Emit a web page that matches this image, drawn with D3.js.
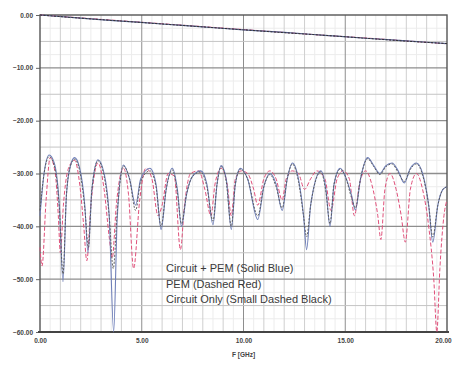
<!DOCTYPE html>
<html>
<head>
<meta charset="utf-8">
<script src="https://cdn.jsdelivr.net/npm/d3@7"></script>
<style>
  body { margin: 0; background: #fff; }
  svg { display: block; font-family: "Liberation Sans", Arial, sans-serif; }
</style>
</head>
<body>
<svg id="chart" width="453" height="365"></svg>
<script>
// tick labels
const xTicks = [0, 5, 10, 15, 20];
const yTicks = [0, -10, -20, -30, -40, -50, -60];

// insertion loss (top traces)
const ilFreq = [0, 2, 4, 6, 8, 10, 12, 14, 16, 18, 20];
const ilCircuitPem = [0, -0.6, -1.15, -1.7, -2.25, -2.8, -3.3, -3.85, -4.4, -4.9, -5.4];
const ilPem = [0, -0.55, -1.1, -1.65, -2.2, -2.75, -3.3, -3.85, -4.35, -4.9, -5.45];
const ilCircuit = [0, -0.6, -1.15, -1.7, -2.25, -2.8, -3.35, -3.85, -4.4, -4.95, -5.4];

// return loss, Circuit + PEM (solid blue)
const rlBlueFreq = [0, 0.2, 0.45, 0.7, 0.95, 1.13, 1.3, 1.5, 1.7, 1.95, 2.2, 2.36, 2.55, 2.85, 3.15, 3.4, 3.62, 3.8, 4.1, 4.4, 4.7, 4.95,
  5.4, 5.7, 5.95, 6.2, 6.5, 6.75, 6.95, 7.2, 7.5, 7.9, 8.2, 8.5, 8.7, 8.9, 9.15, 9.4, 9.6, 9.85, 10.2, 10.7, 11.0, 11.3, 11.6, 11.9,
  12.15, 12.4, 12.7, 12.95, 13.1, 13.3, 13.8, 14.05, 14.25, 14.45, 14.75, 15.0, 15.3, 15.5, 15.75, 16.1, 16.4, 16.7, 17.0, 17.3,
  17.6, 17.9, 18.2, 18.5, 18.8, 19.1, 19.3, 19.55, 19.8, 20];
const rlBlue = [-38, -30, -26.5, -28, -36, -50.5, -34, -28.5, -27, -29, -36, -45, -33, -27.4, -30, -38, -60, -38, -28.4, -31, -36, -31,
  -29, -32, -40.6, -33, -29, -33, -40, -34, -30.5, -29.5, -32, -39.7, -32, -28.5, -31, -40.6, -32, -29, -31, -38.7, -32.5, -30, -32, -37,
  -31, -28, -31, -38, -44.4, -36, -29.5, -33, -40, -32, -29, -30.5, -34, -36.9, -31, -27, -28.5, -30, -28.5, -28,
  -29.5, -31.8, -29, -28, -30, -36, -43, -36, -33, -32.5];

// return loss, Circuit only (small dashed black)
const rlBlackFreq = [0, 0.2, 0.45, 0.7, 0.95, 1.13, 1.3, 1.5, 1.7, 1.95, 2.2, 2.38, 2.55, 2.85, 3.15, 3.4, 3.6, 3.8, 4.1, 4.4, 4.7, 4.95,
  5.4, 5.7, 5.95, 6.2, 6.5, 6.75, 6.95, 7.2, 7.5, 7.9, 8.2, 8.5, 8.7, 8.9, 9.15, 9.4, 9.6, 9.85, 10.2, 10.7, 11.0, 11.3, 11.6, 11.9,
  12.15, 12.4, 12.7, 12.95, 13.1, 13.3, 13.8, 14.05, 14.25, 14.45, 14.75, 15.0, 15.3, 15.5, 15.75, 16.1, 16.4, 16.7, 17.0, 17.3,
  17.6, 17.9, 18.2, 18.5, 18.8, 19.1, 19.3, 19.55, 19.8, 20];
const rlBlack = [-37, -30, -26.8, -28.5, -36.5, -49, -34, -28.5, -27.3, -29.5, -36.5, -44, -33, -27.6, -30.5, -38, -48, -37, -28.6, -31, -37, -31.5,
  -29.5, -32.5, -40, -33, -29.3, -33.5, -39.5, -34, -30.5, -29.7, -32.5, -39, -32, -28.7, -31.5, -40, -32, -29.2, -31, -38, -32.5, -30.2, -32.5, -36.5,
  -31, -28.2, -31.5, -38, -42, -36, -29.7, -33.5, -39.5, -32, -29.2, -30.5, -34.5, -36.5, -31, -27.2, -28.7, -30.2, -28.7, -28.2,
  -29.8, -31.5, -29.2, -28.2, -30.3, -36, -42, -36, -33, -32.5];

// return loss, PEM (dashed red)
const rlRedFreq = [0, 0.1, 0.3, 0.5, 0.75, 0.9, 1.0, 1.15, 1.4, 1.7, 1.95, 2.15, 2.3, 2.5, 2.85, 3.15, 3.4, 3.55, 3.75, 4.1, 4.35, 4.6,
  4.9, 5.2, 5.5, 5.8, 6.0, 6.3, 6.6, 6.9, 7.1, 7.4, 7.8, 8.1, 8.4, 8.6, 8.9, 9.2, 9.4, 9.6, 9.9, 10.2, 10.5, 10.7, 11.0, 11.3, 11.6,
  11.9, 12.1, 12.4, 12.7, 13.0, 13.3, 13.6, 14.0, 14.3, 14.6, 14.9, 15.2, 15.45, 15.7, 16.0, 16.3, 16.6, 16.75, 16.95, 17.2, 17.5,
  17.75, 17.95, 18.2, 18.5, 18.8, 19.1, 19.35, 19.5, 19.65, 19.85, 20];
const rlRed = [-44, -47.5, -35, -27, -30, -38, -45, -36, -29, -27.5, -32, -40, -46.5, -36, -28, -33, -42, -46, -36, -29, -34, -48,
  -35, -29, -31, -38, -36, -30, -30.5, -44.4, -36, -30, -29.5, -33, -38, -32, -29, -32, -38, -31, -29.5, -30, -33, -36, -31, -29.5, -31,
  -35, -31, -29.5, -30, -33, -31, -29.5, -31, -37, -31, -29.5, -31, -38, -32, -29.5, -32, -38, -42.5, -33, -30, -33,
  -38, -43, -33, -30, -33, -40, -50, -60, -48, -38, -35];

const width = 453, height = 365;
const margin = { left: 40, right: 6, top: 15, bottom: 33 };

const svg = d3.select("#chart");

const x = d3.scaleLinear().domain([0, 20]).range([margin.left, width - margin.right]);
const y = d3.scaleLinear().domain([-60, 0]).range([height - margin.bottom, margin.top]);

// faint sub grid
const grid = svg.append("g").attr("class", "grid");
grid.selectAll("line.fx").data(d3.range(0.5, 20, 1)).enter().append("line")
    .attr("x1", d => x(d)).attr("x2", d => x(d))
    .attr("y1", y(0)).attr("y2", y(-60))
    .attr("stroke", "#ececec").attr("stroke-width", 1);
grid.selectAll("line.fy").data(d3.range(-57.5, 0, 5)).enter().append("line")
    .attr("y1", d => y(d)).attr("y2", d => y(d))
    .attr("x1", x(0)).attr("x2", x(20))
    .attr("stroke", "#ececec").attr("stroke-width", 1);

// minor grid, every GHz and every 5 dB
grid.selectAll("line.vx").data(d3.range(1, 20)).enter().append("line")
    .attr("x1", d => x(d)).attr("x2", d => x(d))
    .attr("y1", y(0)).attr("y2", y(-60))
    .attr("stroke", d => d % 5 === 0 ? "#8e8e8e" : "#cfcfcf")
    .attr("stroke-width", 1);
grid.selectAll("line.hy").data(d3.range(-55, 0, 5)).enter().append("line")
    .attr("y1", d => y(d)).attr("y2", d => y(d))
    .attr("x1", x(0)).attr("x2", x(20))
    .attr("stroke", d => d % 10 === 0 ? "#8e8e8e" : "#c4c4c4")
    .attr("stroke-width", d => d % 10 === 0 ? 1.3 : 1);

// axes
const xAxis = d3.axisBottom(x).tickValues(xTicks).tickFormat(d3.format(".2f")).tickSize(0).tickPadding(6);
const yAxis = d3.axisLeft(y).tickValues(yTicks).tickFormat(d3.format(".2f")).tickSize(4).tickPadding(2);

const gx = svg.append("g").attr("transform", `translate(0,${y(-60)})`).call(xAxis);
const gy = svg.append("g").attr("transform", `translate(${x(0)},0)`).call(yAxis);
[gx, gy].forEach(g => {
    g.select(".domain").remove();
    g.selectAll("text").attr("font-size", 6.5).attr("font-weight", "bold").attr("fill", "#444");
    g.selectAll("line").attr("stroke", "#666");
});
gx.selectAll("text").attr("dx", (d, i) => i === 4 ? -4 : 0);
gy.selectAll("text").attr("dx", -1);

svg.append("text")
    .attr("x", x(10)).attr("y", height - 8)
    .attr("text-anchor", "middle")
    .attr("font-size", 6.5).attr("font-weight", "bold").attr("fill", "#444")
    .text("F [GHz]");

// plot frame
svg.append("rect")
    .attr("x", x(0)).attr("y", y(0))
    .attr("width", x(20) - x(0)).attr("height", y(-60) - y(0))
    .attr("fill", "none").attr("stroke", "#555").attr("stroke-width", 1.4);
svg.append("line")
    .attr("x1", x(0) - 2).attr("x2", x(20) + 2)
    .attr("y1", y(-60)).attr("y2", y(-60))
    .attr("stroke", "#444").attr("stroke-width", 2.2);

// traces
const line = d3.line().x(d => x(d[0])).y(d => y(d[1])).curve(d3.curveMonotoneX);
const zip = (fs, vs) => fs.map((f, i) => [f, vs[i]]);

const plot = svg.append("g");

const traces = [
    { pts: zip(ilFreq, ilPem), color: "#e0507a", dash: "4,2", w: 1 },
    { pts: zip(ilFreq, ilCircuitPem), color: "#55608f", dash: null, w: 1.2 },
    { pts: zip(ilFreq, ilCircuit), color: "#333", dash: "2,1.5", w: 1 },
    { pts: zip(rlRedFreq, rlRed), color: "#e0507a", dash: "4,2", w: 1 },
    { pts: zip(rlBlueFreq, rlBlue), color: "#6f7fb8", dash: null, w: 1.1 },
    { pts: zip(rlBlackFreq, rlBlack), color: "#555", dash: "2,1.5", w: 0.9 }
];

plot.selectAll("path").data(traces).enter().append("path")
    .attr("d", d => line(d.pts))
    .attr("fill", "none")
    .attr("stroke", d => d.color)
    .attr("stroke-width", d => d.w)
    .attr("stroke-dasharray", d => d.dash);

// legend text
const legendLines = ["Circuit + PEM (Solid Blue)", "PEM (Dashed Red)", "Circuit Only (Small Dashed Black)"];
svg.append("g").selectAll("text").data(legendLines).enter().append("text")
    .attr("x", 166)
    .attr("y", (d, i) => 272 + i * 15.5)
    .attr("font-size", 11)
    .attr("fill", "#3a3a3a")
    .text(d => d);
</script>
</body>
</html>
